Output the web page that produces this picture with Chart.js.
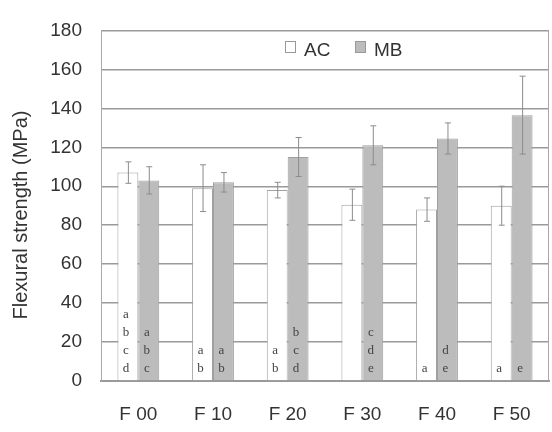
<!DOCTYPE html>
<html lang="en">
<head>
<meta charset="UTF-8" />
<title>Flexural strength</title>
<script src="https://cdn.jsdelivr.net/npm/chart.js@4"></script>
<style>
  html, body { margin: 0; padding: 0; background: #fff; }
  #wrap { width: 552px; height: 432px; }
</style>
</head>
<body>
<div id="wrap"><canvas id="chart"></canvas></div>
<script>
  // values
  const categories = ['F 00', 'F 10', 'F 20', 'F 30', 'F 40', 'F 50'];
  const acValues = [107, 99, 98, 90.5, 88, 90];
  const acErrors = [5.5, 12, 4, 8, 6, 10];
  const mbValues = [103, 102, 115, 121, 124.5, 136.5];
  const mbErrors = [7, 5, 10, 10, 8, 20];
  // significance letters, top to bottom
  const acLetters = [['a', 'b', 'c', 'd'], ['a', 'b'], ['a', 'b'], [], ['a'], ['a']];
  const mbLetters = [['a', 'b', 'c'], ['a', 'b'], ['b', 'c', 'd'], ['c', 'd', 'e'], ['d', 'e'], ['e']];
  const yMax = 180;
  const yStep = 20;
  const yTitle = 'Flexural strength (MPa)';

  const SANS = '"Liberation Sans", Arial, sans-serif';

  const errorBars = {
    id: 'errorBars',
    afterDatasetsDraw(chart) {
      const { ctx, scales: { y } } = chart;
      const errs = [acErrors, mbErrors];
      const letters = [acLetters, mbLetters];
      ctx.save();
      chart.data.datasets.forEach((ds, di) => {
        const meta = chart.getDatasetMeta(di);
        meta.data.forEach((bar, i) => {
          const v = ds.data[i];
          const hi = y.getPixelForValue(v + errs[di][i]);
          const lo = y.getPixelForValue(v - errs[di][i]);
          ctx.strokeStyle = '#8c8c8c';
          ctx.lineWidth = 1;
          ctx.beginPath();
          ctx.moveTo(bar.x + 0.5, hi); ctx.lineTo(bar.x + 0.5, lo);
          ctx.moveTo(bar.x - 2.5, hi); ctx.lineTo(bar.x + 3.5, hi);
          ctx.moveTo(bar.x - 2.5, lo); ctx.lineTo(bar.x + 3.5, lo);
          ctx.stroke();

          // letters stacked up from the axis
          const list = letters[di][i];
          ctx.fillStyle = '#444';
          ctx.font = '13px "Liberation Serif", "DejaVu Serif", serif';
          ctx.textAlign = 'center';
          ctx.textBaseline = 'middle';
          const base = y.getPixelForValue(0);
          list.slice().reverse().forEach((t, k) => {
            ctx.fillText(t, bar.x - 2, base - 12 - k * 18.3);
          });
        });
      });
      ctx.restore();
    }
  };

  const frameAndLegend = {
    id: 'frameAndLegend',
    afterDraw(chart) {
      const { ctx, chartArea: a } = chart;
      ctx.save();
      // right frame line
      ctx.strokeStyle = '#a8a8a8';
      ctx.lineWidth = 1;
      ctx.beginPath();
      ctx.moveTo(a.right - 0.5, a.top);
      ctx.lineTo(a.right - 0.5, a.bottom);
      ctx.stroke();

      // y axis title, sits a bit below the axis centre
      ctx.fillStyle = '#333';
      ctx.font = '20px ' + SANS;
      ctx.textAlign = 'center';
      ctx.textBaseline = 'middle';
      ctx.translate(21, 215);
      ctx.rotate(-Math.PI / 2);
      ctx.fillText(yTitle, 0, 0);
      ctx.setTransform(1, 0, 0, 1, 0, 0);

      // legend
      const items = [
        { label: 'AC', fill: '#ffffff', x: 285 },
        { label: 'MB', fill: '#bcbcbc', x: 355 }
      ];
      ctx.font = '19px ' + SANS;
      ctx.textBaseline = 'middle';
      ctx.textAlign = 'left';
      items.forEach(it => {
        ctx.fillStyle = it.fill;
        ctx.fillRect(it.x, 41, 11, 12);
        ctx.strokeStyle = '#999';
        ctx.strokeRect(it.x + 0.5, 41.5, 10, 11);
        ctx.fillStyle = '#333';
        ctx.fillText(it.label, it.x + 19, 51);
      });
      ctx.restore();
    }
  };

  new Chart(document.getElementById('chart'), {
    type: 'bar',
    data: {
      labels: categories,
      datasets: [
        {
          label: 'AC',
          data: acValues,
          backgroundColor: '#ffffff',
          borderColor: '#a0a0a0',
          borderWidth: 1,
          categoryPercentage: 0.56,
          barPercentage: 1
        },
        {
          label: 'MB',
          data: mbValues,
          backgroundColor: '#bcbcbc',
          borderColor: '#a0a0a0',
          borderWidth: 1,
          categoryPercentage: 0.56,
          barPercentage: 1
        }
      ]
    },
    options: {
      responsive: true,
      maintainAspectRatio: false,
      animation: false,
      layout: { padding: { top: 27, right: 3, left: 0, bottom: 0 } },
      plugins: {
        legend: { display: false },
        tooltip: { enabled: false }
      },
      scales: {
        x: {
          grid: { display: false },
          border: { color: '#999', width: 2 },
          ticks: { color: '#333', font: { family: SANS, size: 19 }, padding: 14 },
          afterFit(s) { s.height = 51; }
        },
        y: {
          min: 0,
          max: yMax,
          grid: { color: '#9a9a9a', lineWidth: 1.4, drawTicks: false },
          border: { color: '#aaa', width: 1 },
          ticks: {
            stepSize: yStep,
            color: '#333',
            padding: 19,
            font: { family: SANS, size: 19 }
          },
          afterFit(s) { s.width = 101; }
        }
      }
    },
    plugins: [errorBars, frameAndLegend]
  });
</script>
</body>
</html>
